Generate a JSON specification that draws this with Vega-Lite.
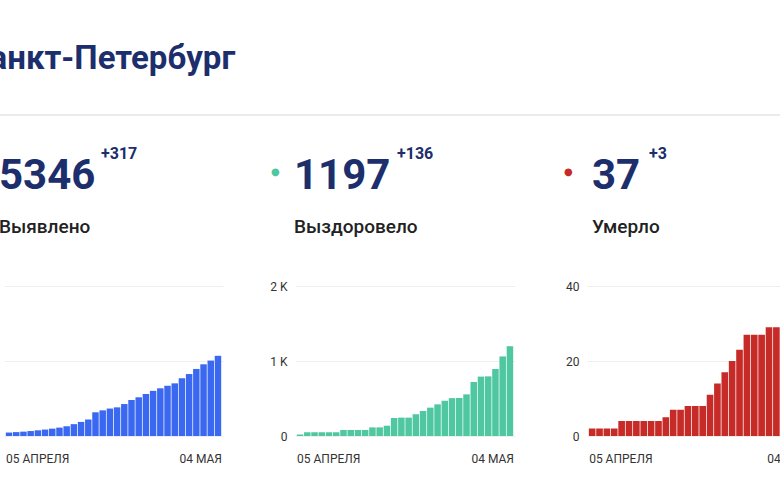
{
  "$schema": "https://vega.github.io/schema/vega-lite/v6.json",
  "background": "white",
  "padding": {"left": -37, "top": 43, "right": 0, "bottom": 0},
  "title": {"text": "Санкт-Петербург", "anchor": "start", "frame": "group", "font": "Roboto", "fontSize": 33, "fontWeight": "bold", "color": "#1c2e6b", "offset": 38, "dx": -36},
  "config": {
    "view": {"stroke": null},
    "axis": {"domain": false, "ticks": false, "labelFont": "Roboto", "labelFontSize": 12, "labelColor": "#333333", "gridColor": "#eeeeee", "labelPadding": 8, "title": null},
    "axisX": {"grid": false, "labelPadding": 17, "labelAngle": 0},
    "axisY": {"minExtent": 30, "maxExtent": 30}
  },
  "datasets": {
    "cases": [
      {"date": "2020-04-05", "value": 230}, {"date": "2020-04-06", "value": 260}, {"date": "2020-04-07", "value": 290},
      {"date": "2020-04-08", "value": 330}, {"date": "2020-04-09", "value": 380}, {"date": "2020-04-10", "value": 430},
      {"date": "2020-04-11", "value": 490}, {"date": "2020-04-12", "value": 560}, {"date": "2020-04-13", "value": 650},
      {"date": "2020-04-14", "value": 790}, {"date": "2020-04-15", "value": 940}, {"date": "2020-04-16", "value": 1100},
      {"date": "2020-04-17", "value": 1580}, {"date": "2020-04-18", "value": 1710}, {"date": "2020-04-19", "value": 1830},
      {"date": "2020-04-20", "value": 1910}, {"date": "2020-04-21", "value": 2130}, {"date": "2020-04-22", "value": 2400},
      {"date": "2020-04-23", "value": 2580}, {"date": "2020-04-24", "value": 2800}, {"date": "2020-04-25", "value": 3010},
      {"date": "2020-04-26", "value": 3180}, {"date": "2020-04-27", "value": 3350}, {"date": "2020-04-28", "value": 3510},
      {"date": "2020-04-29", "value": 3850}, {"date": "2020-04-30", "value": 4130}, {"date": "2020-05-01", "value": 4470},
      {"date": "2020-05-02", "value": 4780}, {"date": "2020-05-03", "value": 5029}, {"date": "2020-05-04", "value": 5346}
    ],
    "recovered": [
      {"date": "2020-04-05", "value": 20}, {"date": "2020-04-06", "value": 50}, {"date": "2020-04-07", "value": 50},
      {"date": "2020-04-08", "value": 50}, {"date": "2020-04-09", "value": 50}, {"date": "2020-04-10", "value": 50},
      {"date": "2020-04-11", "value": 80}, {"date": "2020-04-12", "value": 80}, {"date": "2020-04-13", "value": 80},
      {"date": "2020-04-14", "value": 80}, {"date": "2020-04-15", "value": 115}, {"date": "2020-04-16", "value": 115},
      {"date": "2020-04-17", "value": 137}, {"date": "2020-04-18", "value": 240}, {"date": "2020-04-19", "value": 245},
      {"date": "2020-04-20", "value": 245}, {"date": "2020-04-21", "value": 290}, {"date": "2020-04-22", "value": 335},
      {"date": "2020-04-23", "value": 378}, {"date": "2020-04-24", "value": 422}, {"date": "2020-04-25", "value": 470},
      {"date": "2020-04-26", "value": 505}, {"date": "2020-04-27", "value": 507}, {"date": "2020-04-28", "value": 555},
      {"date": "2020-04-29", "value": 720}, {"date": "2020-04-30", "value": 792}, {"date": "2020-05-01", "value": 795},
      {"date": "2020-05-02", "value": 893}, {"date": "2020-05-03", "value": 1061}, {"date": "2020-05-04", "value": 1197}
    ],
    "deaths": [
      {"date": "2020-04-05", "value": 2}, {"date": "2020-04-06", "value": 2}, {"date": "2020-04-07", "value": 2},
      {"date": "2020-04-08", "value": 2}, {"date": "2020-04-09", "value": 4}, {"date": "2020-04-10", "value": 4},
      {"date": "2020-04-11", "value": 4}, {"date": "2020-04-12", "value": 4}, {"date": "2020-04-13", "value": 4},
      {"date": "2020-04-14", "value": 4}, {"date": "2020-04-15", "value": 5}, {"date": "2020-04-16", "value": 7},
      {"date": "2020-04-17", "value": 7}, {"date": "2020-04-18", "value": 8}, {"date": "2020-04-19", "value": 8},
      {"date": "2020-04-20", "value": 8}, {"date": "2020-04-21", "value": 11}, {"date": "2020-04-22", "value": 14},
      {"date": "2020-04-23", "value": 17}, {"date": "2020-04-24", "value": 20}, {"date": "2020-04-25", "value": 23},
      {"date": "2020-04-26", "value": 27}, {"date": "2020-04-27", "value": 27}, {"date": "2020-04-28", "value": 27},
      {"date": "2020-04-29", "value": 29}, {"date": "2020-04-30", "value": 29}, {"date": "2020-05-01", "value": 33},
      {"date": "2020-05-02", "value": 34}, {"date": "2020-05-03", "value": 34}, {"date": "2020-05-04", "value": 37}
    ]
  },
  "spacing": 30,
  "vconcat": [
    {
      "width": 840, "height": 1,
      "data": {"values": [{}]},
      "mark": {"type": "rule", "color": "#ebebeb", "strokeWidth": 2},
      "encoding": {
        "y": {"datum": 0, "type": "quantitative", "axis": null, "scale": {"domain": [0, 1]}},
        "x": {"datum": -40, "type": "quantitative", "axis": null, "scale": {"domain": [0, 840]}},
        "x2": {"datum": 900}
      }
    },
    {
      "spacing": 42,
      "hconcat": [
        {
          "title": {"text": "●", "font": "DejaVu Sans", "fontSize": 10, "color": "#3a68f0", "anchor": "start", "frame": "group", "dx": -24, "offset": -30.5},
          "vconcat": [{
            "title": {"text": "+317", "font": "Roboto", "fontSize": 16, "fontWeight": "bold", "color": "#1c2e6b", "anchor": "start", "frame": "group", "dx": 97, "offset": -7},
            "vconcat": [{
              "width": 219, "height": 150,
              "data": {"name": "cases"},
              "title": {"text": "5346", "subtitle": "Выявлено", "anchor": "start", "frame": "group", "font": "Roboto", "fontSize": 42, "fontWeight": "bold", "color": "#1c2e6b", "subtitleFont": "Roboto", "subtitleFontSize": 19, "subtitleFontWeight": 500, "subtitleColor": "#222222", "subtitlePadding": 20, "offset": 42, "dx": -5},
              "mark": {"type": "bar", "color": "#3a68f0"},
              "encoding": {
                "x": {"field": "date", "type": "ordinal", "scale": {"paddingInner": 0.1, "paddingOuter": 0.25},
                  "axis": {"values": ["2020-04-05", "2020-05-04"], "labelExpr": "datum.value == '2020-04-05' ? '05 АПРЕЛЯ' : '04 МАЯ'",
                    "labelAlign": {"condition": {"test": "datum.value == '2020-04-05'", "value": "left"}, "value": "right"},
                    "labelOffset": {"condition": {"test": "datum.value == '2020-04-05'", "value": -3}, "value": 4}}},
                "y": {"field": "value", "type": "quantitative", "scale": {"domain": [0, 10000], "nice": false},
                  "axis": {"values": [0, 5000, 10000], "labelPadding": 6, "labelExpr": "datum.value >= 1000 ? (datum.value / 1000) + ' K' : datum.value"}}
              }
            }]
          }]
        },
        {
          "title": {"text": "●", "font": "DejaVu Sans", "fontSize": 10, "color": "#4fc7a0", "anchor": "start", "frame": "group", "dx": -24, "offset": -30.5},
          "vconcat": [{
            "title": {"text": "+136", "font": "Roboto", "fontSize": 16, "fontWeight": "bold", "color": "#1c2e6b", "anchor": "start", "frame": "group", "dx": 102, "offset": -7},
            "vconcat": [{
              "width": 220, "height": 150,
              "data": {"name": "recovered"},
              "title": {"text": "1197", "subtitle": "Выздоровело", "anchor": "start", "frame": "group", "font": "Roboto", "fontSize": 42, "fontWeight": "bold", "color": "#1c2e6b", "subtitleFont": "Roboto", "subtitleFontSize": 19, "subtitleFontWeight": 500, "subtitleColor": "#222222", "subtitlePadding": 20, "offset": 42, "dx": -1},
              "mark": {"type": "bar", "color": "#4fc7a0"},
              "encoding": {
                "x": {"field": "date", "type": "ordinal", "scale": {"paddingInner": 0.1, "paddingOuter": 0.25},
                  "axis": {"values": ["2020-04-05", "2020-05-04"], "labelExpr": "datum.value == '2020-04-05' ? '05 АПРЕЛЯ' : '04 МАЯ'",
                    "labelAlign": {"condition": {"test": "datum.value == '2020-04-05'", "value": "left"}, "value": "right"},
                    "labelOffset": {"condition": {"test": "datum.value == '2020-04-05'", "value": -3}, "value": 4}}},
                "y": {"field": "value", "type": "quantitative", "scale": {"domain": [0, 2000], "nice": false},
                  "axis": {"values": [0, 1000, 2000], "labelExpr": "datum.value >= 1000 ? (datum.value / 1000) + ' K' : datum.value"}}
              }
            }]
          }]
        },
        {
          "title": {"text": "●", "font": "DejaVu Sans", "fontSize": 10, "color": "#c62b27", "anchor": "start", "frame": "group", "dx": -23, "offset": -30.5},
          "vconcat": [{
            "title": {"text": "+3", "font": "Roboto", "fontSize": 16, "fontWeight": "bold", "color": "#1c2e6b", "anchor": "start", "frame": "group", "dx": 62, "offset": -7},
            "vconcat": [{
              "width": 224, "height": 150,
              "data": {"name": "deaths"},
              "title": {"text": "37", "subtitle": "Умерло", "anchor": "start", "frame": "group", "font": "Roboto", "fontSize": 42, "fontWeight": "bold", "color": "#1c2e6b", "subtitleFont": "Roboto", "subtitleFontSize": 19, "subtitleFontWeight": 500, "subtitleColor": "#222222", "subtitlePadding": 20, "offset": 42, "dx": 5},
              "mark": {"type": "bar", "color": "#c62b27"},
              "encoding": {
                "x": {"field": "date", "type": "ordinal", "scale": {"paddingInner": 0.1, "paddingOuter": 0.25},
                  "axis": {"values": ["2020-04-05", "2020-05-04"], "labelExpr": "datum.value == '2020-04-05' ? '05 АПРЕЛЯ' : '04 МАЯ'",
                    "labelAlign": {"condition": {"test": "datum.value == '2020-04-05'", "value": "left"}, "value": "right"},
                    "labelOffset": {"condition": {"test": "datum.value == '2020-04-05'", "value": -3}, "value": 4}}},
                "y": {"field": "value", "type": "quantitative", "scale": {"domain": [0, 40], "nice": false},
                  "axis": {"values": [0, 20, 40]}}
              }
            }]
          }]
        }
      ]
    }
  ]
}
